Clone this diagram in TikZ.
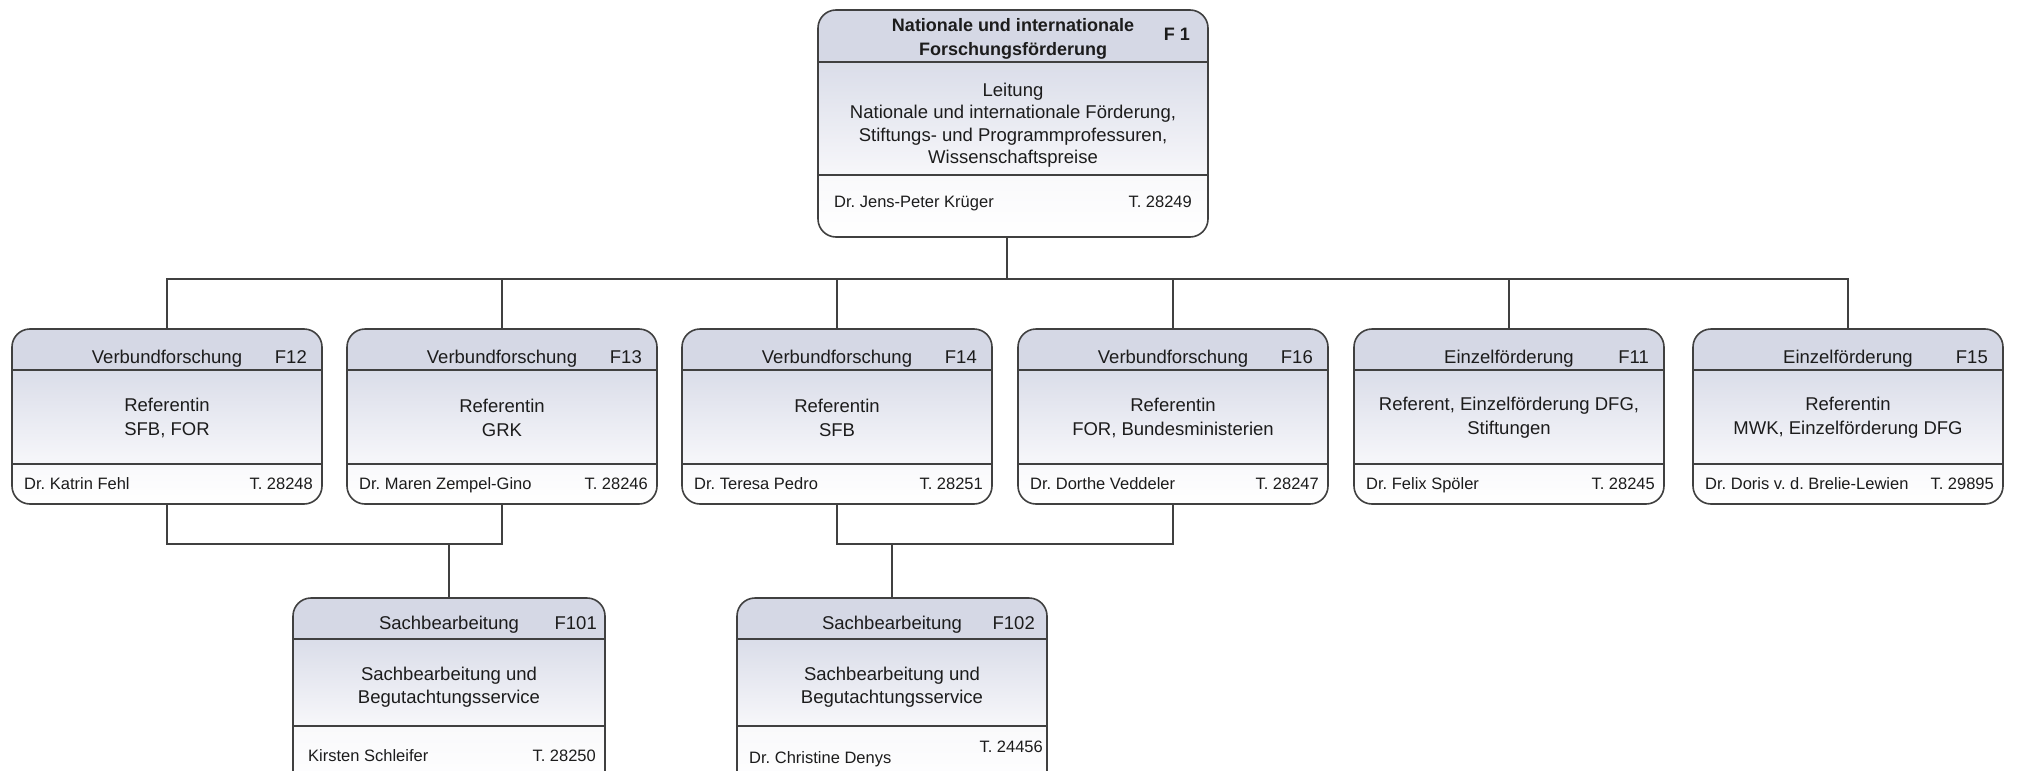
\documentclass[tikz,border=0pt]{standalone}
\usepackage{fontspec}
\setmainfont{Liberation Sans}
\usetikzlibrary{fit,calc}
\definecolor{hdrfill}{RGB}{213,216,229}
\definecolor{bodytop}{RGB}{218,221,233}
\definecolor{bodybot}{RGB}{247,247,250}
\definecolor{foottop}{RGB}{249,249,251}
\definecolor{footbot}{RGB}{255,255,255}
\definecolor{linegray}{RGB}{64,64,64}
\definecolor{txt}{RGB}{28,28,28}

\tikzset{
  conn/.style={draw=linegray, line width=1.5pt},
  border/.style={draw=linegray, line width=1.6pt, rounded corners=18pt},
  divider/.style={draw=linegray, line width=1.4pt},
  ttl/.style={font=\fontsize{18.5}{22}\selectfont, text=txt, inner sep=0pt, anchor=base},
  bttl/.style={font=\fontsize{18}{22}\bfseries\selectfont, text=txt, inner sep=0pt, anchor=base},
  code/.style={font=\fontsize{18.5}{22}\selectfont, text=txt, inner sep=0pt, anchor=base east},
  bcode/.style={font=\fontsize{18}{22}\bfseries\selectfont, text=txt, inner sep=0pt, anchor=base east},
  bodytxt/.style={font=\fontsize{18.5}{24}\selectfont, text=txt, inner sep=0pt, align=center, anchor=center},
  bodytxtb/.style={font=\fontsize{18.5}{22.5}\selectfont, text=txt, inner sep=0pt, align=center, anchor=center},
  person/.style={font=\fontsize{16.5}{20}\selectfont, text=txt, inner sep=0pt, anchor=base west},
  phone/.style={font=\fontsize{16.5}{20}\selectfont, text=txt, inner sep=0pt, anchor=base east},
}

% name, left, right, top, header divider, footer divider, bottom
\newcommand\orgframe[7]{%
  \path (#2,#4) coordinate (#1-nw) (#3,#7) coordinate (#1-se);
  \node[inner sep=0pt, outer sep=0pt, fit=(#1-nw)(#1-se)] (#1) {};
  \begin{scope}
    \clip[rounded corners=18pt] (#2,#4) rectangle (#3,#7);
    \fill[hdrfill] (#2,#4) rectangle (#3,#5);
    \shade[top color=bodytop, bottom color=bodybot] (#2,#5) rectangle (#3,#6);
    \shade[top color=foottop, bottom color=footbot] (#2,#6) rectangle (#3,#7);
  \end{scope}
  \draw[divider] (#2,#5) -- (#3,#5) (#2,#6) -- (#3,#6);
  \draw[border] (#2,#4) rectangle (#3,#7);
}

% middle row box: name, centre x, title, code, body, person, phone
\newcommand\midbox[7]{%
  \orgframe{#1}{#2-155}{#2+155}{329}{370}{464}{504}
  \node[ttl] (#1-t) at (#2,363) {#3};
  \node[code] (#1-c) at (#2+140,363) {#4};
  \node[bodytxt] (#1-b) at (#2,418) {#5};
  \node[person] (#1-p) at (#2-143,489) {#6};
  \node[phone] (#1-n) at (#2+146,489) {#7};
}

\begin{document}
\frenchspacing
\begin{tikzpicture}[x=1pt, y=-1pt]
\useasboundingbox (0,0) rectangle (2022,771);
\clip (0,0) rectangle (2022,771);

% top box
\orgframe{F1}{818}{1208}{10}{62}{175}{237}
\node[bttl] (F1-t1) at (1013,31) {Nationale und internationale};
\node[bttl] (F1-t2) at (1013,55) {Forschungsförderung};
\node[bcode] (F1-c) at (1190,40) {F 1};
\node[bodytxtb] (F1-b) at (1013,125) {Leitung\\Nationale und internationale Förderung,\\Stiftungs- und Programmprofessuren,\\Wissenschaftspreise};
\node[person] (F1-p) at (834,207) {Dr. Jens-Peter Krüger};
\node[phone] (F1-n) at (1192,207) {T. 28249};

% middle row
\midbox{F12}{167}{Verbundforschung}{F12}{Referentin\\SFB, FOR}{Dr. Katrin Fehl}{T. 28248}
\midbox{F13}{502}{Verbundforschung}{F13}{Referentin\\GRK}{Dr. Maren Zempel-Gino}{T. 28246}
\midbox{F14}{837}{Verbundforschung}{F14}{Referentin\\SFB}{Dr. Teresa Pedro}{T. 28251}
\midbox{F16}{1173}{Verbundforschung}{F16}{Referentin\\FOR, Bundesministerien}{Dr. Dorthe Veddeler}{T. 28247}
\midbox{F11}{1509}{Einzelförderung}{F11}{Referent, Einzelförderung DFG,\\Stiftungen}{Dr. Felix Spöler}{T. 28245}
\midbox{F15}{1848}{Einzelförderung}{F15}{Referentin\\MWK, Einzelförderung DFG}{Dr. Doris v. d. Brelie-Lewien}{T. 29895}

% bottom row
\orgframe{F101}{293}{605}{598}{639}{726}{790}
\node[ttl] (F101-t) at (449,629) {Sachbearbeitung};
\node[code] (F101-c) at (597,629) {F101};
\node[bodytxtb] (F101-b) at (449,687) {Sachbearbeitung und\\Begutachtungsservice};
\node[person] (F101-p) at (308,761) {Kirsten Schleifer};
\node[phone] (F101-n) at (596,761) {T. 28250};

\orgframe{F102}{737}{1047}{598}{639}{726}{790}
\node[ttl] (F102-t) at (892,629) {Sachbearbeitung};
\node[code] (F102-c) at (1035,629) {F102};
\node[bodytxtb] (F102-b) at (892,687) {Sachbearbeitung und\\Begutachtungsservice};
\node[person] (F102-p) at (749,763) {Dr. Christine Denys};
\node[phone] (F102-n) at (1043,752) {T. 24456};

% connectors
\coordinate (F1s) at ($(F1.south)+(-6,0)$);
\foreach \c in {F12,F13,F14,F16,F11,F15}
  \draw[conn] (F1s) -- ++(0,42) -| (\c.north);
\draw[conn] (F12.south) -- ++(0,40) -| (F101.north);
\draw[conn] (F13.south) -- ++(0,40) -| (F101.north);
\draw[conn] (F14.south) -- ++(0,40) -| (F102.north);
\draw[conn] (F16.south) -- ++(0,40) -| (F102.north);
\end{tikzpicture}
\end{document}
